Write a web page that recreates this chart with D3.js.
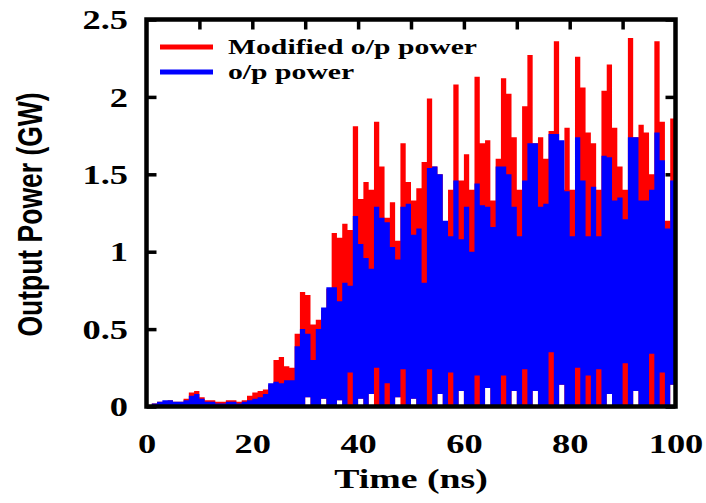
<!DOCTYPE html>
<html>
<head>
<meta charset="utf-8">
<script src="https://cdn.jsdelivr.net/npm/d3@7"></script>
<style>
  html, body { margin: 0; padding: 0; background: #fff; }
  svg { display: block; }
</style>
</head>
<body>
<svg id="chart" width="706" height="503"></svg>
<script>
// Output power per 1 ns bin (GW): upper envelope and lower edge of each trace.
const modifiedPeak = [
  0.01,0.02,0.03,0.03,0.04,0.03,0.03,0.05,0.09,0.10,
  0.06,0.04,0.04,0.03,0.03,0.04,0.04,0.03,0.04,0.07,
  0.09,0.10,0.11,0.14,0.30,0.32,0.26,0.25,0.47,0.74,
  0.72,0.53,0.56,0.62,0.76,1.12,1.09,1.18,1.14,1.81,
  1.34,1.45,1.40,1.84,1.55,1.22,1.32,1.07,1.70,1.45,
  1.33,1.41,1.58,1.99,1.55,1.50,1.16,1.40,2.08,1.46,
  1.63,1.40,2.13,1.70,1.72,1.33,1.60,2.12,2.02,1.74,
  1.40,1.94,2.27,1.70,1.74,1.60,1.78,2.36,1.40,1.80,
  1.40,2.26,2.06,1.77,1.70,1.40,2.04,2.21,1.80,1.55,
  1.40,2.38,1.74,1.82,1.77,1.50,2.36,1.84,1.20,1.86
];
const modifiedLow = [
  0,0,0,0,0,0,0,0,0,0,
  0,0,0,0,0,0,0,0,0,0,
  0,0,0,0,0,0,0,0,0,0,
  0.06,0,0,0.05,0,0,0.04,0,0,0,
  0.05,0,0.08,0,0,0,0,0.06,0,0,
  0.05,0,0,0,0,0.08,0,0,0,0.10,
  0,0,0,0,0.12,0,0,0,0,0.10,
  0,0,0,0.10,0,0,0,0,0.14,0,
  0,0,0,0,0,0,0,0.08,0,0,
  0,0,0.10,0,0,0,0,0,0,0.14
];
const outputPeak = [
  0.01,0.02,0.03,0.04,0.04,0.03,0.03,0.04,0.07,0.08,
  0.05,0.03,0.03,0.02,0.02,0.03,0.03,0.02,0.03,0.04,
  0.05,0.06,0.08,0.15,0.16,0.15,0.17,0.17,0.39,0.50,
  0.47,0.30,0.50,0.64,0.77,0.77,0.68,0.80,0.78,1.23,
  1.05,0.96,0.89,1.29,1.22,1.19,1.03,0.95,1.29,1.31,
  1.11,1.15,0.80,1.54,1.55,1.50,1.20,1.10,1.46,1.08,
  1.29,1.00,1.44,1.30,1.29,1.16,1.55,1.55,1.50,1.29,
  1.10,1.46,1.70,1.70,1.29,1.31,1.76,1.76,1.72,1.39,
  1.10,1.74,1.46,1.10,1.42,1.10,1.62,1.61,1.33,1.35,
  1.21,1.74,1.74,1.33,1.33,1.40,1.77,1.59,1.15,1.46
];
const outputLow = [
  0,0,0,0,0,0,0,0,0,0,
  0,0,0,0,0,0,0,0,0,0,
  0,0,0,0,0,0,0,0,0,0,
  0.06,0,0,0.05,0,0,0.04,0,0.22,0,
  0.05,0,0.08,0.25,0,0.15,0,0.06,0.24,0,
  0.05,0,0,0.24,0,0.08,0,0.22,0,0.10,
  0,0,0.20,0,0.12,0,0,0.20,0,0.10,
  0,0.24,0,0.10,0,0,0.35,0,0.14,0,
  0,0.25,0,0.20,0,0.24,0,0.08,0,0,
  0.28,0,0.10,0,0,0.34,0,0.22,0,0.14
];

const xTicks = [0, 20, 40, 60, 80, 100];
const xTopTicks = [10, 20, 30, 40, 50, 60, 70, 80, 90];
const yTicks = [0, 0.5, 1, 1.5, 2, 2.5];
const yTickLabels = ["0", "0.5", "1", "1.5", "2", "2.5"];
const seriesNames = ["Modified o/p power", "o/p power"];
const seriesColors = ["#ff0000", "#0000ff"];

const svg = d3.select("#chart");
const plotLeft = 146.5, plotRight = 675.5, plotTop = 19.5, plotBottom = 406.5;
const stretch = 1.35;

const x = d3.scaleLinear().domain([0, 100]).range([plotLeft, plotRight]);
const y = d3.scaleLinear().domain([0, 2.5]).range([plotBottom, plotTop]);

// bins start at each whole nanosecond; last point closes the final step
function binRows(peak, low) {
  const rows = peak.map((v, i) => ({ t: i, hi: v, lo: low[i] }));
  rows.push({ t: peak.length, hi: peak[peak.length - 1], lo: low[low.length - 1] });
  return rows;
}

// inward ticks on all four sides (drawn beneath the traces)
const tickStyle = g => {
  g.select(".domain").remove();
  g.selectAll(".tick line").attr("stroke", "#000").attr("stroke-width", 3.5);
};
svg.append("g").attr("transform", `translate(${plotLeft},0)`)
  .call(d3.axisLeft(y).tickValues(yTicks).tickSize(-10).tickFormat(""))
  .call(tickStyle);
svg.append("g").attr("transform", `translate(${plotRight},0)`)
  .call(d3.axisRight(y).tickValues(yTicks).tickSize(-10).tickFormat(""))
  .call(tickStyle);
svg.append("g").attr("transform", `translate(0,${plotTop})`)
  .call(d3.axisTop(x).tickValues(xTopTicks).tickSize(-10).tickFormat(""))
  .call(tickStyle);

// traces: modified power behind, original power in front
const area = d3.area()
  .x(d => x(d.t))
  .y0(d => y(d.lo))
  .y1(d => y(d.hi))
  .curve(d3.curveStepAfter);

const plot = svg.append("g");
plot.append("path")
  .datum(binRows(modifiedPeak, modifiedLow))
  .attr("d", area)
  .attr("fill", seriesColors[0]);
plot.append("path")
  .datum(binRows(outputPeak, outputLow))
  .attr("d", area)
  .attr("fill", seriesColors[1]);

// frame
svg.append("rect")
  .attr("x", plotLeft).attr("y", plotTop)
  .attr("width", plotRight - plotLeft).attr("height", plotBottom - plotTop)
  .attr("fill", "none").attr("stroke", "#000").attr("stroke-width", 4.5);

// tick labels
const serif = "'Liberation Serif', 'Times New Roman', serif";
const yLab = svg.append("g").attr("transform", `translate(${plotLeft},0)`)
  .call(d3.axisLeft(y).tickValues(yTicks).tickSize(0).tickPadding(13.7)
    .tickFormat((d, i) => yTickLabels[i]));
yLab.select(".domain").remove();
yLab.selectAll("text")
  .attr("font-family", serif).attr("font-weight", "bold").attr("font-size", 27)
  .attr("fill", "#000").attr("dy", "0.34em")
  .attr("transform", `scale(${stretch},1)`);

const xLab = svg.append("g").attr("transform", `translate(0,${plotBottom})`)
  .call(d3.axisBottom(x).tickValues(xTicks).tickSize(0).tickFormat(d3.format("d")));
xLab.select(".domain").remove();
xLab.selectAll("text")
  .attr("font-family", serif).attr("font-weight", "bold").attr("font-size", 27)
  .attr("fill", "#000").attr("y", 0).attr("dy", 0)
  .attr("transform", `translate(0,46.5) scale(${stretch},1)`);

// axis titles
svg.append("text")
  .attr("transform", `translate(411,488) scale(${stretch},1)`)
  .attr("text-anchor", "middle")
  .attr("font-family", serif).attr("font-weight", "bold").attr("font-size", 28)
  .text("Time (ns)");

svg.append("text")
  .attr("transform", `translate(42,214.5) scale(${stretch},1) rotate(-90)`)
  .attr("text-anchor", "middle")
  .attr("font-family", "'Liberation Sans', Arial, sans-serif")
  .attr("font-weight", "bold").attr("font-size", 26.5)
  .text("Output Power (GW)");

// legend
const legend = svg.append("g");
seriesNames.forEach((name, i) => {
  const ly = 47 + i * 25;
  legend.append("line")
    .attr("x1", 160).attr("x2", 213).attr("y1", ly).attr("y2", ly)
    .attr("stroke", seriesColors[i]).attr("stroke-width", 5);
  legend.append("text")
    .attr("transform", `translate(228,${ly + 7}) scale(${stretch},1)`)
    .attr("font-family", serif).attr("font-weight", "bold").attr("font-size", 22)
    .text(name);
});
</script>
</body>
</html>
